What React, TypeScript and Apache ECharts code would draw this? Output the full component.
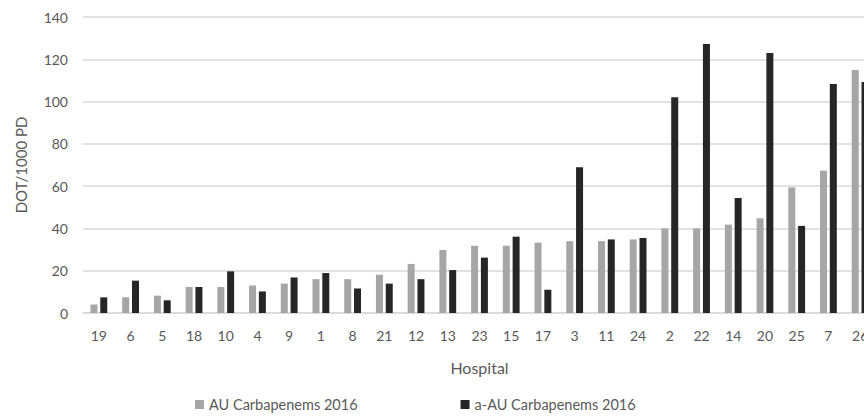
import React, { useEffect, useRef } from "react";
import * as echarts from "echarts";

const hospitals = ["19", "6", "5", "18", "10", "4", "9", "1", "8", "21", "12", "13", "23", "15", "17", "3", "11", "24", "2", "22", "14", "20", "25", "7", "26"];
const auCarbapenems = [4, 7.4, 8.2, 12.3, 12.3, 13, 13.9, 16, 16, 18.1, 23.2, 29.8, 31.8, 31.8, 33.3, 34, 34, 34.8, 40, 40, 41.8, 44.8, 59.4, 67.3, 114.9];
const aAuCarbapenems = [7.4, 15.3, 6, 12.3, 19.7, 10.2, 16.8, 18.9, 11.6, 13.9, 16, 20.3, 26.2, 36.1, 11, 68.9, 34.8, 35.5, 102, 127.2, 54.4, 123, 41.2, 108.3, 109.3];
const seriesNames = ["AU Carbapenems 2016", "a-AU Carbapenems 2016"];
const yTicks = { min: 0, max: 140, interval: 20 };

const FONT = "Lato, 'Liberation Sans', sans-serif";
const TEXT = "#595959";

export default function App() {
  const ref = useRef<HTMLDivElement>(null);
  useEffect(() => {
    if (!ref.current) return;
    const chart = echarts.init(ref.current, undefined, { renderer: "svg" });
    chart.setOption({
      animation: false,
      backgroundColor: "#ffffff",
      textStyle: { fontFamily: FONT },
      grid: { left: 83, right: 0, top: 17, bottom: 103, containLabel: false },
      legend: {
        left: 190,
        top: 392,
        itemWidth: 9,
        itemHeight: 9,
        itemGap: 103,
        icon: "rect",
        textStyle: { fontFamily: FONT, fontSize: 14.5, color: TEXT },
        data: seriesNames,
      },
      xAxis: {
        type: "category",
        data: hospitals,
        name: "Hospital",
        nameLocation: "middle",
        nameGap: 46,
        nameTextStyle: { fontFamily: FONT, fontSize: 16, color: TEXT },
        axisLine: { show: true, lineStyle: { color: "#d9d9d9", width: 1.5 } },
        axisTick: { show: false },
        axisLabel: { interval: 0, fontFamily: FONT, fontSize: 14, color: TEXT, margin: 15 },
      },
      yAxis: {
        type: "value",
        min: yTicks.min,
        max: yTicks.max,
        interval: yTicks.interval,
        name: "DOT/1000 PD",
        nameLocation: "middle",
        nameGap: 55,
        nameTextStyle: { fontFamily: FONT, fontSize: 15, color: TEXT },
        axisLine: { show: false },
        axisTick: { show: false },
        axisLabel: { fontFamily: FONT, fontSize: 14, color: TEXT, margin: 15 },
        splitLine: { lineStyle: { color: "#d9d9d9", width: 1.5 } },
      },
      series: [
        {
          name: seriesNames[0],
          type: "bar",
          data: auCarbapenems,
          barWidth: 7,
          barGap: "40%",
          itemStyle: { color: "#a6a6a6" },
        },
        {
          name: seriesNames[1],
          type: "bar",
          data: aAuCarbapenems,
          barWidth: 7,
          barGap: "40%",
          itemStyle: { color: "#262626" },
        },
      ],
    });
    return () => chart.dispose();
  }, []);
  return (
    <div style={{ position: "fixed", left: 0, top: 0, width: 864, height: 416, overflow: "hidden", background: "#fff" }}>
      <div ref={ref} style={{ width: 876, height: 416 }} />
    </div>
  );
}
